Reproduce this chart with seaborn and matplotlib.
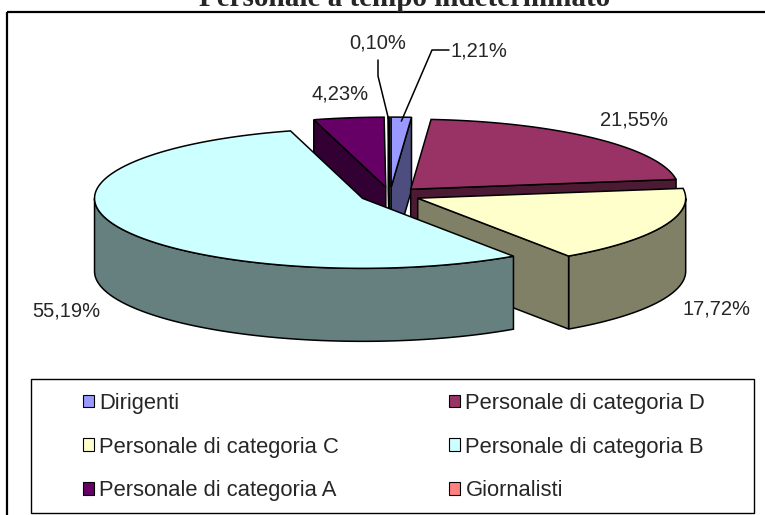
import numpy as np
import matplotlib
matplotlib.use("Agg")
import matplotlib.pyplot as plt
import seaborn as sns
from matplotlib.patches import Patch, Rectangle

categories = ["Dirigenti", "Personale di categoria D", "Personale di categoria C",
              "Personale di categoria B", "Personale di categoria A", "Giornalisti"]
shares = [1.21, 21.55, 17.72, 55.19, 4.23, 0.10]
top_colors = ["#9999FF", "#993366", "#FFFFCC", "#CCFFFF", "#660066", "#FF8080"]
title = "Personale a tempo indeterminato"

sns.set_style("white")
plt.rcParams["font.family"] = ["Liberation Sans", "DejaVu Sans"]

# 3d pie geometry, in pixel units of the 765x515 canvas
CX, CY = 390, 195
RX, RY = 268, 70
DEPTH = 73
EXPLODE = 0.113
EDGE = 1.1

# labels dragged out by hand in the original, with leader lines
LEADERS = {
    "Dirigenti": ((479, 51), [(449, 50), (432, 50)]),
    "Giornalisti": ((378, 43), [(378, 60), (378, 76)]),
}

palette = sns.color_palette(top_colors)
side_colors = [tuple(0.5 * c for c in col) for col in palette]


def rim(cx, cy, t):
    t = np.radians(np.atleast_1d(t))
    return cx + RX * np.cos(t), cy - RY * np.sin(t)


def arc(t_hi, t_lo):
    n = max(2, int(abs(t_hi - t_lo)) + 2)
    return np.linspace(t_hi, t_lo, n)


fig = plt.figure(figsize=(7.65, 5.15), dpi=100)
ax = fig.add_axes([0, 0, 1, 1])
ax.set_xlim(0, 765)
ax.set_ylim(515, 0)
ax.axis("off")

slices = []
start = 90.0
for i, v in enumerate(shares):
    t1 = start
    t0 = start - 360.0 * v / 100.0
    mid = np.radians((t0 + t1) / 2)
    px = CX + EXPLODE * RX * np.cos(mid)
    py = CY - EXPLODE * RY * np.sin(mid)
    slices.append(dict(i=i, t0=t0, t1=t1, mid=mid, px=px, py=py))
    start = t0

# back slices first
order = sorted(slices, key=lambda s: -np.sin(s["mid"]))
for z, s in enumerate(order):
    i, t0, t1, px, py = s["i"], s["t0"], s["t1"], s["px"], s["py"]
    zb = 10 + 3 * z
    # outer wall, front half only
    for k in range(-2, 2):
        lo = max(t0, -180 + 360 * k)
        hi = min(t1, 360 * k)
        if hi > lo:
            xs, ys = rim(px, py, arc(hi, lo))
            wx = np.concatenate([xs, xs[::-1]])
            wy = np.concatenate([ys, ys[::-1] + DEPTH])
            ax.fill(wx, wy, facecolor=side_colors[i], edgecolor="black",
                    lw=EDGE, zorder=zb)
    # cut faces
    for t, visible in ((t1, np.cos(np.radians(t1)) < -1e-9),
                       (t0, np.cos(np.radians(t0)) > 1e-9)):
        if visible:
            rx_, ry_ = rim(px, py, t)
            fx = [px, rx_[0], rx_[0], px]
            fy = [py, ry_[0], ry_[0] + DEPTH, py + DEPTH]
            ax.fill(fx, fy, facecolor=side_colors[i], edgecolor="black",
                    lw=EDGE, zorder=zb + 1)
    # top face
    xs, ys = rim(px, py, arc(t1, t0))
    ax.fill(np.concatenate([[px], xs]), np.concatenate([[py], ys]),
            facecolor=palette[i], edgecolor="black", lw=EDGE, zorder=zb + 2)

# percentage labels
for s in slices:
    i, mid = s["i"], s["mid"]
    txt = f"{shares[i]:.2f}%".replace(".", ",")
    name = categories[i]
    if name in LEADERS:
        (tx, ty), path = LEADERS[name]
        rx_, ry_ = rim(s["px"], s["py"], np.degrees(mid))
        lx = [p[0] for p in path] + [rx_[0]]
        ly = [p[1] for p in path] + [ry_[0] + 4]
        ax.plot(lx, ly, color="black", lw=1.1, zorder=60)
        ax.text(tx, ty, txt, ha="center", va="center", fontsize=14.5, zorder=61)
    else:
        lx = s["px"] + 1.22 * RX * np.cos(mid)
        ly = s["py"] - 1.35 * RY * np.sin(mid)
        if np.sin(mid) < 0:
            ly += DEPTH
        ax.text(lx, ly, txt, ha="center", va="center", fontsize=14.5, zorder=61)

# outer chart frame (right and bottom fall outside the picture)
ax.add_patch(Rectangle((7, 12), 800, 600, fill=False, lw=1.6,
                       edgecolor="black", zorder=70))

ax.text(405, 6, title, ha="center", va="baseline", fontsize=21,
        fontweight="bold", family=["Liberation Serif", "DejaVu Serif"], zorder=70)

# legend box
ax.add_patch(Rectangle((31, 379), 723, 134, fill=False, lw=1.0,
                       edgecolor="black", zorder=70))
handles = [Patch(facecolor=palette[i], edgecolor="black", lw=0.8, label=categories[i])
           for i in range(len(categories))]
leg_order = [0, 2, 4, 1, 3, 5]
ax.legend([handles[j] for j in leg_order], [categories[j] for j in leg_order],
          ncol=2, loc="center", bbox_to_anchor=(394 / 765, 1 - 447 / 515),
          bbox_transform=fig.transFigure, frameon=False, fontsize=15.8,
          handlelength=0.5, handleheight=0.5, handletextpad=0.25,
          columnspacing=5.0, labelspacing=1.03)

fig.savefig("out.png", dpi=100)
